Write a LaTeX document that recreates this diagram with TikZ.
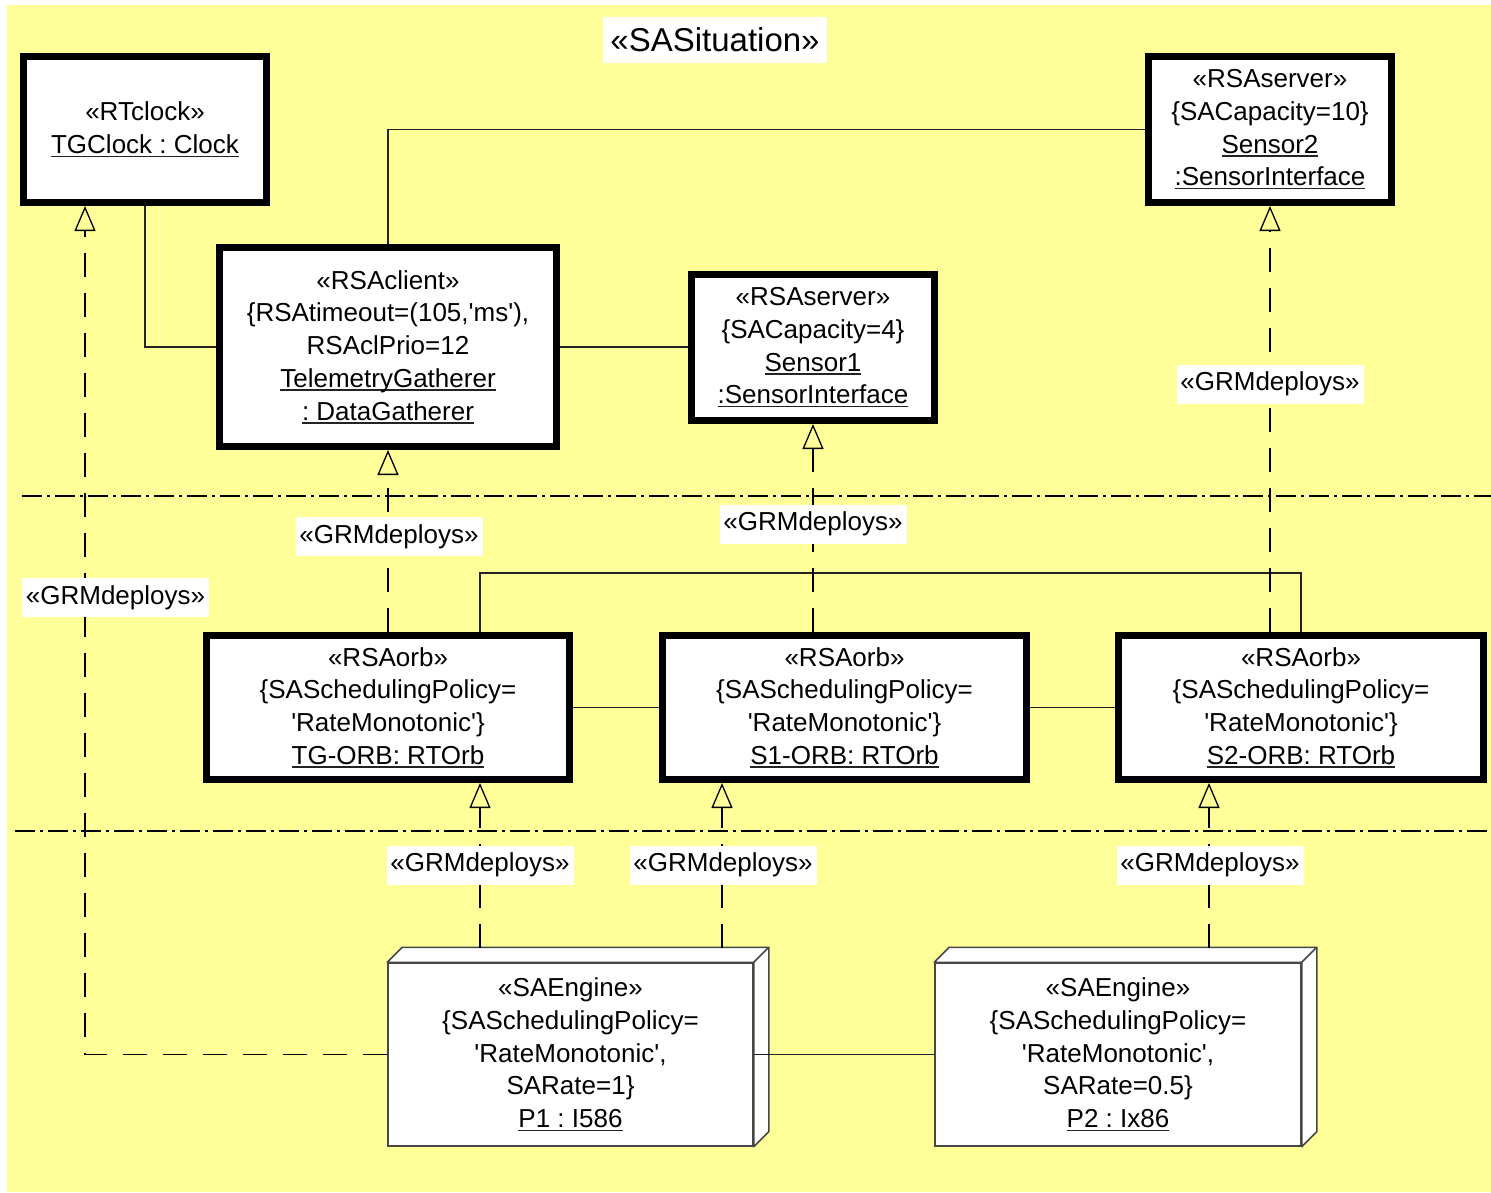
\documentclass[tikz,border=0pt]{standalone}
\usepackage{fontspec}
\setmainfont{Liberation Sans}
\usetikzlibrary{arrows.meta,calc}
\definecolor{bgyellow}{RGB}{255,255,153}
\definecolor{wire}{RGB}{35,35,35}
\definecolor{edge}{RGB}{70,70,70}
% underlined instance names
\newcommand\ulbox[1]{\setbox0=\hbox{#1}\rlap{\color{wire}\rule[-3.5pt]{\wd0}{1.5pt}}\box0}
\newcommand\sq{\textquotesingle}
\frenchspacing
\begin{document}
\begin{tikzpicture}[x=1pt,y=-1pt,
  txt/.style={font=\fontsize{26}{32.7}\selectfont, align=center},
  obj/.style={txt, draw=black, line width=7pt, fill=white, inner sep=0pt, outer sep=3.5pt},
  engine/.style={txt, draw=edge, line width=1.5pt, fill=white, inner sep=0pt, outer sep=0.75pt},
  wire/.style={draw=wire, line width=1.3pt},
  deploy/.style={draw=black, line width=1.3pt, dash pattern=on 24pt off 16pt,
    -{Triangle[open, length=25pt, width=21pt, line width=1.3pt]}},
  lbl/.style={txt, fill=white, inner sep=0pt, minimum width=187pt, minimum height=39pt},
  sep/.style={draw=black, line width=1.3pt, dash pattern=on 20pt off 5pt on 3pt off 5pt}]
\useasboundingbox (0,0) rectangle (1491,1192);
\fill[white] (0,0) rectangle (1491,1192);
\fill[bgyellow] (7,5) rectangle (1491,1192);

% swimlane separators
\draw[sep] (22,496) -- (1491,496);
\draw[sep] (15,831) -- (1487,831);

% title
\node[fill=white, inner sep=0pt, minimum width=224pt, minimum height=46pt,
      font=\fontsize{33}{40}\selectfont] (title) at (715,40) {«SASituation»};

% resources
\node[obj, minimum width=243pt, minimum height=146pt] (clock) at (145,129.5)
  {«RTclock»\\\ulbox{TGClock : Clock}};
\node[obj, minimum width=243pt, minimum height=146pt] (sensor2) at (1270,129.5)
  {«RSAserver»\\\{SACapacity=10\}\\\ulbox{Sensor2}\\\ulbox{:SensorInterface}};
\node[obj, minimum width=337pt, minimum height=199pt] (client) at (388,347)
  {«RSAclient»\\\{RSAtimeout=(105,\sq ms\sq),\\RSAclPrio=12\\\ulbox{TelemetryGatherer}\\\ulbox{: DataGatherer}};
\node[obj, minimum width=243pt, minimum height=146pt] (sensor1) at (813,347.5)
  {«RSAserver»\\\{SACapacity=4\}\\\ulbox{Sensor1}\\\ulbox{:SensorInterface}};

% ORBs
\node[obj, minimum width=363pt, minimum height=144pt] (tgorb) at (388,707.5)
  {«RSAorb»\\\{SASchedulingPolicy=\\\sq RateMonotonic\sq\}\\\ulbox{TG-ORB: RTOrb}};
\node[obj, minimum width=364pt, minimum height=144pt] (s1orb) at (844.5,707.5)
  {«RSAorb»\\\{SASchedulingPolicy=\\\sq RateMonotonic\sq\}\\\ulbox{S1-ORB: RTOrb}};
\node[obj, minimum width=365pt, minimum height=144pt] (s2orb) at (1301,707.5)
  {«RSAorb»\\\{SASchedulingPolicy=\\\sq RateMonotonic\sq\}\\\ulbox{S2-ORB: RTOrb}};

% engines (3D nodes)
\node[engine, minimum width=365pt, minimum height=183pt] (p1) at (570.5,1054.5)
  {«SAEngine»\\\{SASchedulingPolicy=\\\sq RateMonotonic\sq,\\SARate=1\}\\\ulbox{P1 : I586}};
\node[engine, minimum width=366pt, minimum height=183pt] (p2) at (1118,1054.5)
  {«SAEngine»\\\{SASchedulingPolicy=\\\sq RateMonotonic\sq,\\SARate=0.5\}\\\ulbox{P2 : Ix86}};
\foreach \n in {p1,p2}{
  \filldraw[fill=white, draw=edge, line width=1.5pt, line join=round]
    (\n.north west) -- ++(15,-15) -- ($(\n.north east)+(15,-15)$)
    -- ($(\n.south east)+(15,-15)$) -- (\n.south east) -- (\n.north east) -- cycle;
  \draw[draw=edge, line width=1.5pt] (\n.north east) -- ++(15,-15);
}

% links
\draw[wire] (clock.south) |- (client.west);
\draw[wire] (client.north) |- (sensor2.west);
\draw[wire] (client.east) -- (client.east -| sensor1.west);
\draw[wire] ([xshift=92pt]tgorb.north) -- ++(0,-59) -| (s2orb.north);
\draw[wire] (tgorb.east) -- (s1orb.west);
\draw[wire] (s1orb.east) -- (s2orb.west);
\draw[wire] (p1.east) -- (p2.west);

% deployments
\coordinate (p1a) at (480,948);
\coordinate (p1b) at (722,948);
\coordinate (p2a) at (1209,948);
\draw[deploy] (p1.west) -| ([xshift=65pt]clock.south west);
\draw[deploy] (p1a) -- (p1a |- tgorb.south);
\draw[deploy] (p1b) -- (p1b |- s1orb.south);
\draw[deploy] (p2a) -- (p2a |- s2orb.south);
\draw[deploy] (tgorb.north) -- (client.south);
\draw[deploy] (s1orb.north -| sensor1.south) -- (sensor1.south);
\draw[deploy] (s2orb.north -| sensor2.south) -- (sensor2.south);

% deployment labels
\node[lbl] (d1) at (115.5,597.5) {«GRMdeploys»};
\node[lbl] (d2) at (389,536.5) {«GRMdeploys»};
\node[lbl] (d3) at (813,524) {«GRMdeploys»};
\node[lbl] (d4) at (1270,384) {«GRMdeploys»};
\node[lbl] (d5) at (480,865) {«GRMdeploys»};
\node[lbl] (d6) at (723,865) {«GRMdeploys»};
\node[lbl] (d7) at (1210,865) {«GRMdeploys»};
\end{tikzpicture}
\end{document}
